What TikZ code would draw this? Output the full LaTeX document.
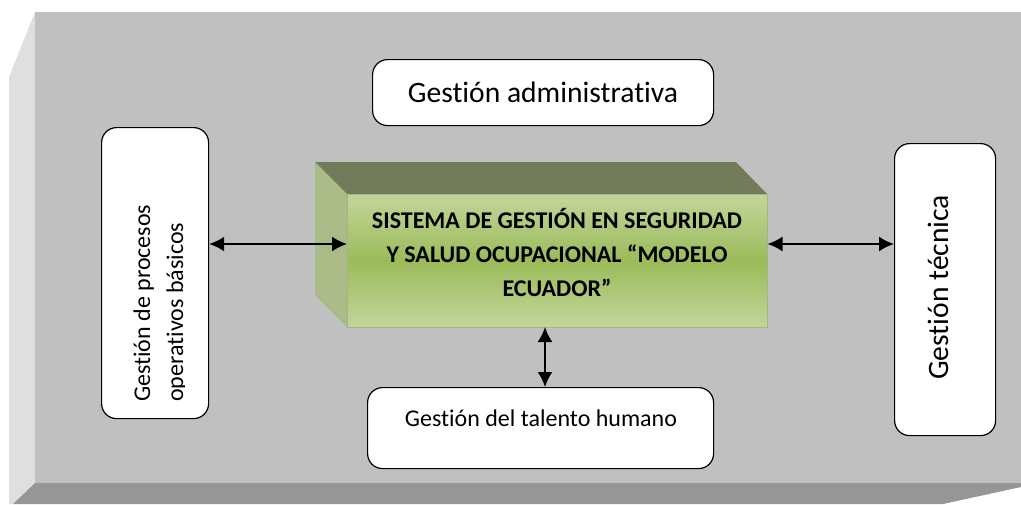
\documentclass[tikz,border=0pt]{standalone}
\usepackage{fontspec}
\setmainfont[Ligatures=NoCommon]{Carlito}
\definecolor{panel}{HTML}{C0C0C0}
\definecolor{bevelL}{HTML}{DFDFDF}
\definecolor{bevelB}{HTML}{969696}
\definecolor{greenL}{HTML}{C2D69B}
\definecolor{greenM}{HTML}{9BBB59}
\definecolor{faceL}{HTML}{ABBB88}
\definecolor{faceT}{HTML}{737C5A}
\usetikzlibrary{arrows.meta,calc}
\tikzset{
  roundbox/.style={draw=black,line width=1.2pt,fill=white,rounded corners=15pt,minimum width=0pt},
  link/.style={line width=1.8pt,{Latex[length=15pt,width=15pt]}-{Latex[length=15pt,width=15pt]}},
  lbl/.style={inner sep=0pt,anchor=base}
}
\begin{document}
\begin{tikzpicture}[x=1pt,y=-1pt]
\useasboundingbox (0,0) rectangle (1021,504);
% panel
\fill[white] (0,0) rectangle (1021,504);
\fill[bevelL] (35,12) -- (9,77) -- (9,504) -- (13,504) -- (35,483) -- cycle;
\fill[panel] (35,12) rectangle (1021,483);
\fill[bevelB] (35,483) -- (1021,483) -- (1021,487) -- (943,504) -- (13,504) -- cycle;
% 3D block
\fill[faceT] (315,162) -- (736,162) -- (767,194) -- (347,194) -- cycle;
\fill[faceL] (315,162) -- (347,194) -- (347,327) -- (315,295) -- cycle;
\node[inner sep=0pt,minimum width=420pt,minimum height=133pt,anchor=north west,
  draw=greenL!85!black,line width=0.5pt,top color=greenL,bottom color=greenL,middle color=greenM] (core) at (347,194) {};
\node[lbl,font=\fontsize{24}{34}\selectfont\bfseries] (t1) at (557,228) {SISTEMA DE GESTIÓN EN SEGURIDAD};
\node[lbl,font=\fontsize{24}{34}\selectfont\bfseries] (t2) at (557,262) {Y SALUD OCUPACIONAL “MODELO};
\node[lbl,font=\fontsize{24}{34}\selectfont\bfseries] (t3) at (557,296) {ECUADOR”};
% boxes
\node[roundbox,anchor=north west,minimum width=341pt,minimum height=66pt,inner sep=0pt] (adm) at (372,59) {};
\node[lbl,font=\fontsize{29.6}{32}\selectfont] (admt) at (543,102) {Gestión administrativa};
\node[roundbox,anchor=north west,minimum width=346pt,minimum height=81pt,inner sep=0pt] (tal) at (367,387) {};
\node[lbl,font=\fontsize{24}{26}\selectfont] (talt) at (541,426) {Gestión del talento humano};
\node[roundbox,anchor=north west,minimum width=107pt,minimum height=291pt,inner sep=0pt] (ope) at (101,127) {};
\node[rotate=90,inner sep=0pt,anchor=base west,font=\fontsize{24}{26}\selectfont] (opea) at (150,402) {Gestión de procesos};
\begin{scope}
\clip (101,127) rectangle (184,418);
\node[rotate=90,inner sep=0pt,anchor=base west,font=\fontsize{24}{26}\selectfont] (opeb) at (183,402) {operativos básicos};
\end{scope}
\node[roundbox,anchor=north west,minimum width=101pt,minimum height=292pt,inner sep=0pt] (tec) at (894,143) {};
\node[rotate=90,inner sep=0pt,anchor=base west,font=\fontsize{29.6}{32}\selectfont] (tect) at (948,380) {Gestión técnica};
% connectors
\coordinate (coreL) at (core.west |- 0,244);
\coordinate (coreR) at (core.east |- 0,244);
\coordinate (coreB) at (545,327);
\coordinate (talT) at (545,387);
\draw[link] (ope.east |- coreL) -- (coreL);
\draw[link] (coreR) -- (tec.west |- coreR);
\draw[link] (coreB) -- (talT);
\end{tikzpicture}
\end{document}
